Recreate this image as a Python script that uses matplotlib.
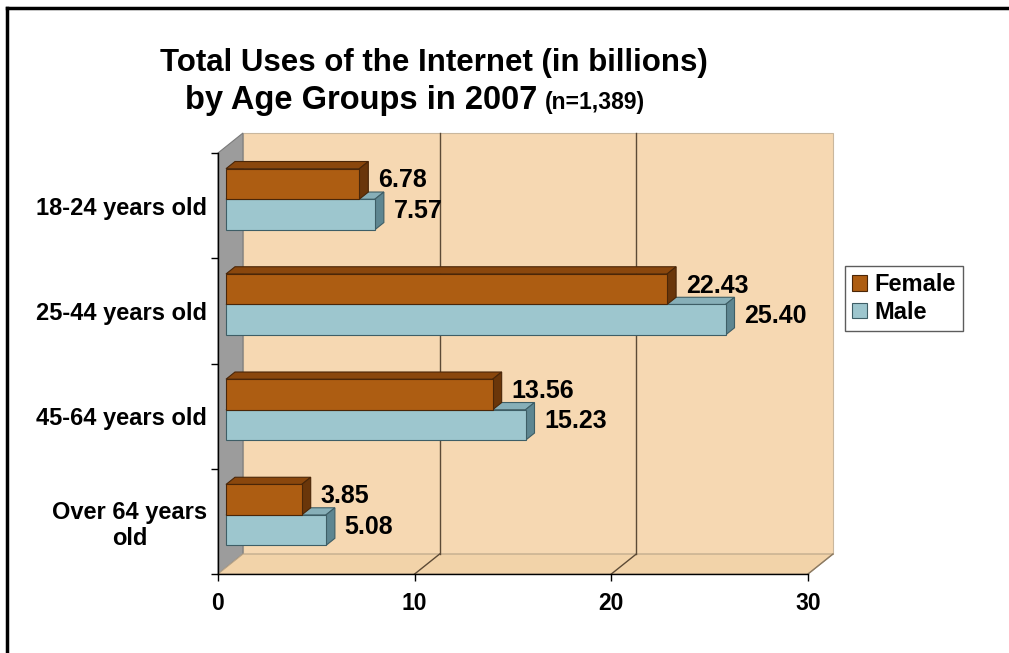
import numpy as np
import matplotlib
matplotlib.use('Agg')
import matplotlib.pyplot as plt
from matplotlib.patches import Polygon, Rectangle
from matplotlib.lines import Line2D

plt.rcParams['font.family'] = ['Liberation Sans', 'DejaVu Sans']
plt.rcParams['font.weight'] = 'bold'

# Data
categories = ['18-24 years old', '25-44 years old', '45-64 years old', 'Over 64 years\nold']
female = [6.78, 22.43, 13.56, 3.85]
male = [7.57, 25.40, 15.23, 5.08]
x_ticks = [0, 10, 20, 30]

# colours
wall_col = '#F6D8B2'
floor_col = '#F2D3A9'
side_wall_col = '#9C9C9C'
fem_cols = ('#AD5D12', '#8A470D', '#6A360A', '#4A2608')   # front, top, side, edge
male_cols = ('#9DC6CE', '#87AFB8', '#5E8691', '#3E5E66')

# fake 3d depth (in data units)
DX = 1.27
DY = 0.19
d0, d1 = 0.32, 0.68
bar_h = 0.29


def proj(v, y, d):
    return (v + d * DX, y + d * DY)


fig = plt.figure(figsize=(10.09, 6.53), dpi=100)
ax = fig.add_axes([218 / 1009, 1 - 574 / 653, 590 / 1009, 421 / 653])
ax.set_facecolor('none')
ax.set_xlim(0, 30)
ax.set_ylim(0, 4)

n = len(categories)
centers = np.arange(n)[::-1] + 0.5

# walls
xmax = x_ticks[-1]
back = Rectangle(proj(0, 0, 1), xmax, 4, facecolor=wall_col, edgecolor='#C9B79E',
                 lw=0.8, zorder=0.5, clip_on=False)
ax.add_patch(back)
left_wall = Polygon([proj(0, 0, 0), proj(0, 4, 0), proj(0, 4, 1), proj(0, 0, 1)],
                    closed=True, facecolor=side_wall_col, edgecolor='#7A7A7A',
                    lw=0.8, zorder=0.6, clip_on=False)
ax.add_patch(left_wall)
floor = Polygon([proj(0, 0, 0), proj(xmax, 0, 0), proj(xmax, 0, 1), proj(0, 0, 1)],
                closed=True, facecolor=floor_col, edgecolor='#B8A488',
                lw=0.8, zorder=0.6, clip_on=False)
ax.add_patch(floor)

# gridlines on back wall and floor
for t in x_ticks[1:-1]:
    bx, by = proj(t, 0, 1)
    ax.plot([bx, bx], [by, 4 + DY], color='#5C4A36', lw=1, zorder=0.7, clip_on=False)
    fx, fy = proj(t, 0, 0)
    ax.plot([fx, bx], [fy, by], color='#5C4A36', lw=1, zorder=0.7, clip_on=False)
fx, fy = proj(xmax, 0, 0)
bx, by = proj(xmax, 0, 1)
ax.plot([fx, bx], [fy, by], color='#8C7A62', lw=1, zorder=0.7, clip_on=False)


def draw_bars(values, y_lo, cols):
    front_c, top_c, side_c, edge_c = cols
    ax.barh(y_lo + d0 * DY, values, height=bar_h, left=d0 * DX, align='edge',
            color=front_c, edgecolor=edge_c, lw=0.8, zorder=3)
    for v, y in zip(values, y_lo):
        ytop = y + bar_h
        top = Polygon([proj(0, ytop, d0), proj(v, ytop, d0), proj(v, ytop, d1), proj(0, ytop, d1)],
                      closed=True, facecolor=top_c, edgecolor=edge_c, lw=0.8, zorder=2.9)
        side = Polygon([proj(v, y, d0), proj(v, ytop, d0), proj(v, ytop, d1), proj(v, y, d1)],
                       closed=True, facecolor=side_c, edgecolor=edge_c, lw=0.8, zorder=2.9)
        ax.add_patch(top)
        ax.add_patch(side)
        lx, ly = proj(v, y + bar_h / 2, 0.5)
        ax.annotate(f'{v:.2f}', (proj(v, y, d1)[0], ly), xytext=(7, 0),
                    textcoords='offset points', va='center', ha='left',
                    fontsize=18, fontweight='bold', zorder=5)


# male first so the female front face covers it
draw_bars(male, centers - bar_h, male_cols)
draw_bars(female, centers, fem_cols)

# axes styling
for s in ['top', 'right']:
    ax.spines[s].set_visible(False)
ax.spines['left'].set_linewidth(1)
ax.spines['bottom'].set_linewidth(1)
ax.spines['left'].set_zorder(1)
ax.spines['bottom'].set_zorder(1)

ax.set_xticks(x_ticks)
ax.set_xticklabels([str(t) for t in x_ticks], fontsize=16.5, fontweight='bold')
ax.tick_params(axis='x', direction='out', length=5, width=1, pad=8)

ax.set_yticks(centers)
ax.set_yticklabels(categories, fontsize=17, fontweight='bold')
ax.set_yticks(np.arange(n + 1), minor=True)
ax.tick_params(axis='y', which='major', length=0, pad=8)
ax.tick_params(axis='y', which='minor', direction='out', length=5, width=1)
for lbl in ax.get_yticklabels():
    lbl.set_multialignment('center')

# legend
handles = [Rectangle((0, 0), 1, 1, facecolor=fem_cols[0], edgecolor=fem_cols[3], lw=0.8),
           Rectangle((0, 0), 1, 1, facecolor=male_cols[0], edgecolor=male_cols[3], lw=0.8)]
leg = fig.legend(handles, ['Female', 'Male'], loc='upper left',
                 bbox_to_anchor=(845 / 1009, 1 - 266 / 653), borderaxespad=0,
                 fancybox=False, frameon=True, edgecolor='#333333',
                 prop={'size': 17, 'weight': 'bold'},
                 handlelength=0.65, handleheight=0.65, handletextpad=0.3,
                 labelspacing=0.2, borderpad=0.3)
leg.get_frame().set_linewidth(1)

# title
fig.text(434 / 1009, 1 - 71 / 653, 'Total Uses of the Internet (in billions)',
         ha='center', va='baseline', fontsize=22.5, fontweight='bold')
fig.text(537 / 1009, 1 - 109 / 653, 'by Age Groups in 2007',
         ha='right', va='baseline', fontsize=23.5, fontweight='bold')
fig.text(545 / 1009, 1 - 109 / 653, '(n=1,389)',
         ha='left', va='baseline', fontsize=16.5, fontweight='bold')

# outer frame (top and left edges)
fig.add_artist(Line2D([7 / 1009, 1], [1 - 8 / 653, 1 - 8 / 653], color='black', lw=2.5,
                      transform=fig.transFigure))
fig.add_artist(Line2D([7 / 1009, 7 / 1009], [0, 1 - 8 / 653], color='black', lw=2.5,
                      transform=fig.transFigure))

fig.savefig('out.png', dpi=100)
